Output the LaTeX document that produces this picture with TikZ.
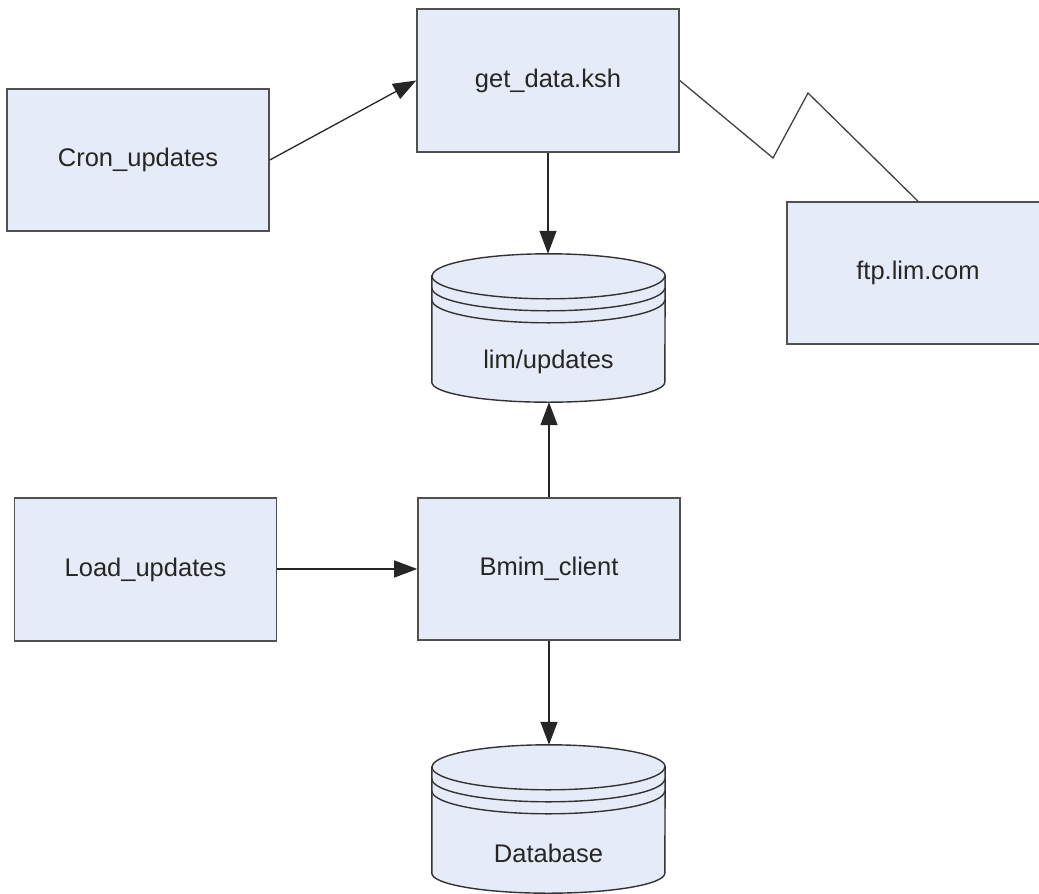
\documentclass[tikz,border=0pt]{standalone}
\usepackage{fontspec}
\setmainfont{Liberation Sans}
\usetikzlibrary{arrows.meta,calc}
\definecolor{boxfill}{RGB}{230,236,247}
\definecolor{boxline}{RGB}{80,80,80}
\tikzset{
  procbox/.style={draw=boxline, fill=boxfill, line width=1.6pt, minimum width=262pt, minimum height=142pt, inner sep=0pt,
    font=\fontsize{25.5}{30}\selectfont, text=black!85},
  cylspace/.style={minimum width=233pt, minimum height=148pt, inner sep=0pt},
  cyltext/.style={font=\fontsize{25.5}{30}\selectfont, text=black!85, inner sep=0pt},
  cylline/.style={draw=black!80, fill=boxfill, line width=1.4pt},
  arcline/.style={draw=black!80, line width=1.4pt},
  conn/.style={draw=black!85, line width=1.3pt, -{Triangle[length=23pt,width=17pt]}},
  plainconn/.style={draw=black!75, line width=1.3pt},
}
\newcommand\dbcyl[1]{%
  \path[cylline] ($(#1.north west)+(0,22)$) -- ($(#1.south west)+(0,-20)$)
     arc[start angle=180, end angle=360, x radius=116.5pt, y radius=20pt]
     -- ($(#1.north east)+(0,22)$)
     arc[start angle=0, end angle=180, x radius=116.5pt, y radius=22pt] -- cycle;
  \draw[arcline] ($(#1.north west)+(0,22)$) arc[start angle=180, end angle=360, x radius=116.5pt, y radius=23pt];
  \draw[arcline] ($(#1.north west)+(0,34)$) arc[start angle=180, end angle=360, x radius=116.5pt, y radius=23pt];
  \draw[arcline] ($(#1.north west)+(0,46)$) arc[start angle=180, end angle=360, x radius=116.5pt, y radius=23pt];
}
\begin{document}
\begin{tikzpicture}[x=1pt,y=-1pt]
\useasboundingbox (0,0) rectangle (1039,894);

\node[procbox] (cron) at (138,160) {Cron\_updates};
\node[procbox, minimum height=143pt] (get) at (548,80.5) {get\_data.ksh};
\node[procbox] (ftp) at (918,273) {ftp.lim.com};
\node[procbox, minimum height=143pt] (load) at (145.5,569.5) {Load\_updates};
\node[procbox] (bmim) at (549,569) {Bmim\_client};

\node[cylspace] (lim) at (548.5,328) {};
\node[cylspace] (db) at (548.5,819) {};
\dbcyl{lim}
\dbcyl{db}
\node[cyltext] (limlabel) at ($(lim.center)+(0,34)$) {lim/updates};
\node[cyltext] (dblabel) at ($(db.center)+(0,34)$) {Database};

\coordinate (z1) at (773,158);
\coordinate (z2) at (808,93);

\draw[conn] (cron.east) -- (get.west);
\draw[conn] (get.south) -- (get.south |- lim.north);
\draw[conn] (bmim.north) -- (bmim.north |- lim.south);
\draw[conn] (load.east |- bmim.west) -- (bmim.west);
\draw[conn] (bmim.south) -- (bmim.south |- db.north);
\draw[plainconn] (get.east) -- (z1) -- (z2) -- (ftp.north);
\end{tikzpicture}
\end{document}
